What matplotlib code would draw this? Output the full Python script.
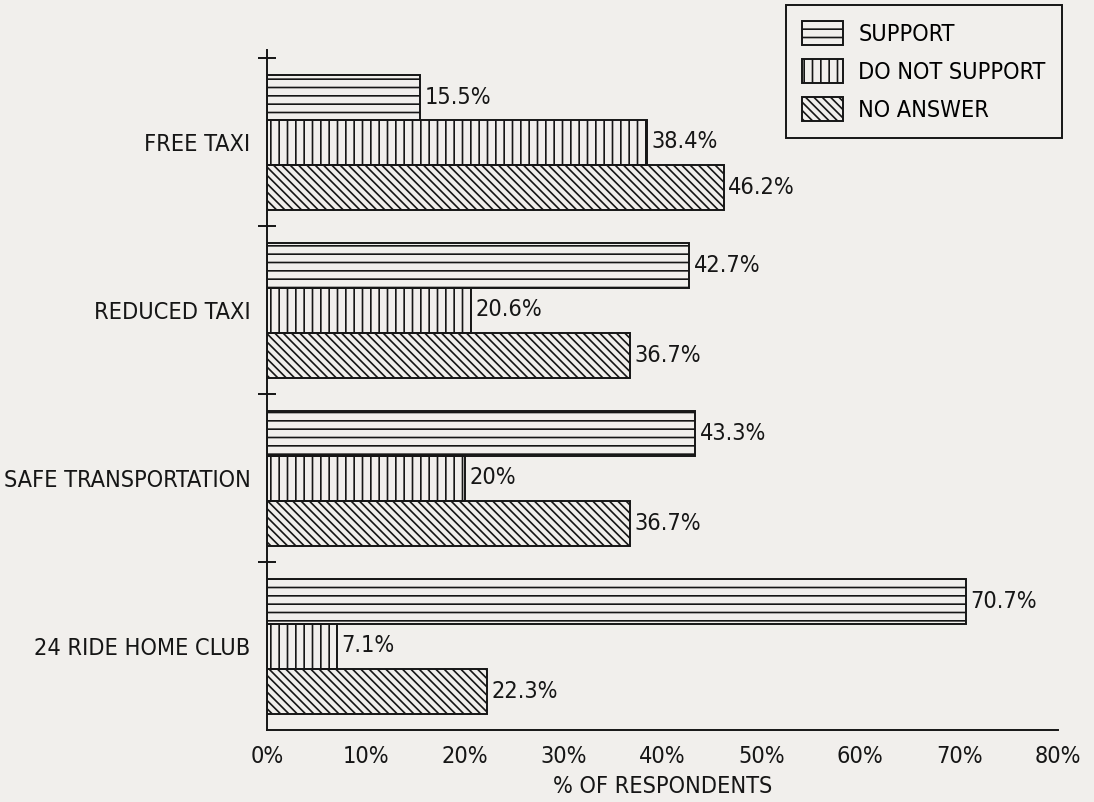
import matplotlib
matplotlib.use("Agg")
import matplotlib.pyplot as plt
from matplotlib.patches import Patch

categories = ["24 RIDE HOME CLUB", "SAFE TRANSPORTATION", "REDUCED TAXI", "FREE TAXI"]
support = [70.7, 43.3, 42.7, 15.5]
do_not_support = [7.1, 20.0, 20.6, 38.4]
no_answer = [22.3, 36.7, 36.7, 46.2]
series_names = ["SUPPORT", "DO NOT SUPPORT", "NO ANSWER"]
hatches = ["--", "||", "\\\\\\\\"]
xticks = [0, 10, 20, 30, 40, 50, 60, 70, 80]

plt.rcParams['font.family'] = ['DejaVu Sans']
plt.rcParams['font.stretch'] = 'condensed'
plt.rcParams['hatch.linewidth'] = 1.2
bg = '#f1efec'
ink = '#161616'
fs = 16.8

fig = plt.figure(figsize=(10.94, 8.02), dpi=100, facecolor=bg)
ax = fig.add_axes([267/1094, 72/802, (1058-267)/1094, (730-58)/802])
ax.set_facecolor(bg)

h = 45/168
ys = list(range(len(categories)))
for k, (vals, hat) in enumerate(zip([support, do_not_support, no_answer], hatches)):
    offs = h * (1 - k)
    pos = [y + offs for y in ys]
    ax.barh(pos, vals, height=h, left=0, facecolor='none', edgecolor=ink,
            hatch=hat, linewidth=1.4)
    for p, v in zip(pos, vals):
        ax.text(v + 0.45, p, f"{v:g}%", va='center', ha='left', fontsize=fs, color=ink)

ax.set_xlim(0, 80)
ax.set_ylim(-0.5, 3.5)
ax.set_xticks(xticks)
ax.set_xticklabels([f"{t}%" for t in xticks], fontsize=fs, color=ink)
ax.tick_params(axis='x', length=0, pad=11)
ax.set_yticks(ys)
ax.set_yticklabels(categories, fontsize=fs, color=ink)
ax.tick_params(axis='y', which='major', length=0, pad=12)
ax.set_yticks([0.5, 1.5, 2.5, 3.5], minor=True)
ax.tick_params(axis='y', which='minor', length=13, direction='inout', width=1.4, color=ink)
for s in ['top', 'right']:
    ax.spines[s].set_visible(False)
for s in ['left', 'bottom']:
    ax.spines[s].set_linewidth(1.4)
    ax.spines[s].set_color(ink)
ax.spines['left'].set_bounds(-0.5, 3.55)

ax.set_xlabel("% OF RESPONDENTS", fontsize=fs, color=ink, labelpad=5)

handles = [Patch(facecolor='none', edgecolor=ink, hatch=hh, linewidth=1.4) for hh in hatches]
leg = fig.legend(handles, series_names, loc='upper right', bbox_to_anchor=(1062/1094, 1 - 5/802),
                 fancybox=False, edgecolor=ink, framealpha=1, facecolor=bg,
                 fontsize=fs, handlelength=1.75, handleheight=1.2, borderaxespad=0,
                 labelspacing=0.55, handletextpad=0.65, borderpad=0.7)
leg.get_frame().set_linewidth(1.4)

fig.savefig("out.png", dpi=100, facecolor=bg)
